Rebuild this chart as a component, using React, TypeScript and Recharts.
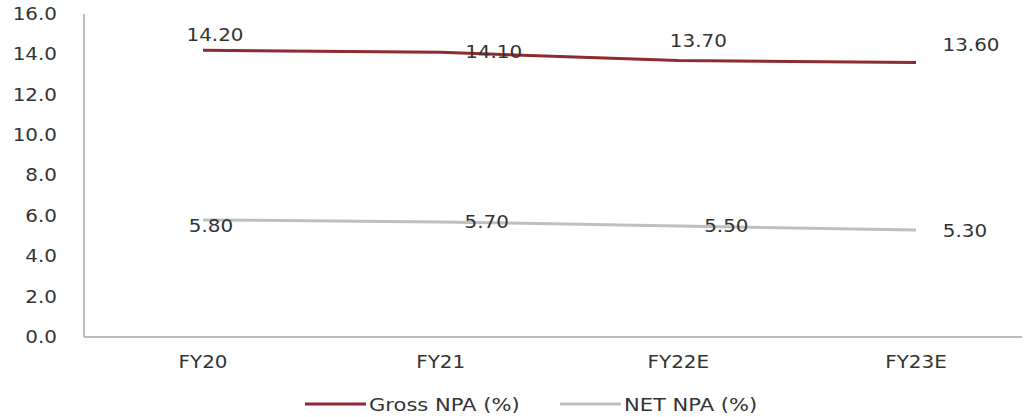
import React from "react";
import { LineChart, Line, XAxis, YAxis, LabelList } from "recharts";

const categories = ["FY20", "FY21", "FY22E", "FY23E"];
const grossNpa = [14.2, 14.1, 13.7, 13.6];
const netNpa = [5.8, 5.7, 5.5, 5.3];
const yTicks = [0, 2, 4, 6, 8, 10, 12, 14, 16];
const seriesNames = ["Gross NPA (%)", "NET NPA (%)"];

const data = categories.map((c, i) => ({ cat: c, gross: grossNpa[i], net: netNpa[i] }));

const GROSS_COLOR = "#8E2B30";
const NET_COLOR = "#BFBFBF";
const TEXT_COLOR = "#333333";
const FONT = "'DejaVu Sans', Verdana, sans-serif";
const SX = 1.17;
const FS = 17;

// label offsets (styling only)
const grossOff = [
  [12, -15],
  [53, 0],
  [20, -19],
  [55, -17],
];
const netOff = [
  [8, 6],
  [46, 0],
  [48, 0],
  [49, 1],
];

function SText({ x, y, anchor, children, size }: any) {
  return (
    <text
      transform={`translate(${x},${y}) scale(${SX},1)`}
      textAnchor={anchor}
      dominantBaseline="central"
      fontSize={size || FS}
      fontFamily={FONT}
      fill={TEXT_COLOR}
    >
      {children}
    </text>
  );
}

const YTick = (props: any) => {
  const { x, y, payload } = props;
  return (
    <SText x={x} y={y} anchor="end">
      {Number(payload.value).toFixed(1)}
    </SText>
  );
};

const XTick = (props: any) => {
  const { x, y, payload } = props;
  return (
    <SText x={x} y={y} anchor="middle">
      {payload.value}
    </SText>
  );
};

const makeLabel = (offs: number[][]) => (props: any) => {
  const { x, y, value, index } = props;
  const o = offs[index] || [0, 0];
  return (
    <SText x={x + o[0]} y={y + o[1]} anchor="middle">
      {Number(value).toFixed(2)}
    </SText>
  );
};

export default function App() {
  return (
    <div style={{ position: "absolute", left: 0, top: 0, width: 1024, height: 417, background: "#fff" }}>
      <LineChart
        width={1024}
        height={417}
        data={data}
        margin={{ top: 14, right: 2, bottom: 50, left: 0 }}
      >
        <XAxis
          dataKey="cat"
          padding={{ left: 119, right: 106 }}
          tickLine={false}
          tickSize={0}
          tickMargin={25}
          height={30}
          axisLine={{ stroke: "#A6A6A6", strokeWidth: 1.5 }}
          tick={<XTick />}
          interval={0}
        />
        <YAxis
          domain={[0, 16]}
          ticks={yTicks}
          width={84}
          tickLine={false}
          tickSize={0}
          tickMargin={27}
          axisLine={{ stroke: "#A6A6A6", strokeWidth: 1.5 }}
          tick={<YTick />}
          interval={0}
        />
        <Line
          dataKey="gross"
          stroke={GROSS_COLOR}
          strokeWidth={3}
          dot={false}
          isAnimationActive={false}
        >
          <LabelList dataKey="gross" content={makeLabel(grossOff)} />
        </Line>
        <Line
          dataKey="net"
          stroke={NET_COLOR}
          strokeWidth={3}
          dot={false}
          isAnimationActive={false}
        >
          <LabelList dataKey="net" content={makeLabel(netOff)} />
        </Line>
      </LineChart>
      <svg
        width={1024}
        height={30}
        style={{ position: "absolute", left: 0, top: 390 }}
      >
        <line x1={305} x2={366} y1={14} y2={14} stroke={GROSS_COLOR} strokeWidth={3} />
        <SText x={369} y={15} anchor="start" size={18}>{seriesNames[0]}</SText>
        <line x1={560} x2={621} y1={14} y2={14} stroke={NET_COLOR} strokeWidth={3} />
        <SText x={624} y={15} anchor="start" size={18}>{seriesNames[1]}</SText>
      </svg>
    </div>
  );
}
